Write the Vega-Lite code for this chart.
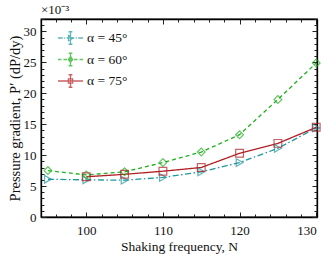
{
  "$schema": "https://vega.github.io/schema/vega-lite/v6.json",
  "width": 276,
  "height": 198,
  "autosize": "none",
  "padding": {"left": 41, "top": 19, "right": 4, "bottom": 39},
  "background": "white",
  "config": {
    "view": {"stroke": "black", "strokeWidth": 1.3},
    "font": "Liberation Serif",
    "axis": {"labelFont": "Liberation Serif", "titleFont": "Liberation Serif", "labelFontSize": 13, "titleFontSize": 13.5, "titleFontWeight": "normal", "labelColor": "#111", "titleColor": "#111", "domainColor": "black", "domainWidth": 1.3, "tickColor": "#222", "tickWidth": 1, "grid": false}
  },
  "title": {"text": "×10⁻³", "anchor": "start", "frame": "group", "font": "Liberation Serif", "fontSize": 13, "fontWeight": "normal", "offset": 2, "color": "#111"},
  "data": {"values": [
    {"N": 95, "P": 6.1, "series": "α = 45°"},
    {"N": 100, "P": 6.0, "series": "α = 45°"},
    {"N": 105, "P": 5.95, "series": "α = 45°"},
    {"N": 110, "P": 6.4, "series": "α = 45°"},
    {"N": 115, "P": 7.3, "series": "α = 45°"},
    {"N": 120, "P": 8.8, "series": "α = 45°"},
    {"N": 125, "P": 11.1, "series": "α = 45°"},
    {"N": 130, "P": 14.4, "series": "α = 45°"},
    {"N": 95, "P": 7.5, "series": "α = 60°"},
    {"N": 100, "P": 6.8, "series": "α = 60°"},
    {"N": 105, "P": 7.3, "series": "α = 60°"},
    {"N": 110, "P": 8.8, "series": "α = 60°"},
    {"N": 115, "P": 10.5, "series": "α = 60°"},
    {"N": 120, "P": 13.3, "series": "α = 60°"},
    {"N": 125, "P": 19.0, "series": "α = 60°"},
    {"N": 130, "P": 24.9, "series": "α = 60°"},
    {"N": 100, "P": 6.5, "series": "α = 75°"},
    {"N": 105, "P": 6.9, "series": "α = 75°"},
    {"N": 110, "P": 7.4, "series": "α = 75°"},
    {"N": 115, "P": 8.0, "series": "α = 75°"},
    {"N": 120, "P": 10.3, "series": "α = 75°"},
    {"N": 125, "P": 11.9, "series": "α = 75°"},
    {"N": 130, "P": 14.5, "series": "α = 75°"}
  ]},
  "resolve": {
    "scale": {"shape": "independent"},
    "legend": {"color": "independent", "shape": "independent"},
    "axis": {"x": "independent", "y": "independent"}
  },
  "layer": [
    {
      "mark": {"type": "line", "strokeWidth": 1.3},
      "encoding": {
        "x": {"field": "N", "type": "quantitative", "scale": {"domain": [94.1, 130.1], "nice": false, "zero": false},
          "axis": {"orient": "bottom", "title": "Shaking frequency, N", "values": [96,98,100,102,104,106,108,110,112,114,116,118,120,122,124,126,128,130],
            "labelExpr": "datum.value % 10 === 0 ? datum.label : ''", "tickSize": {"condition": {"test": "datum.value % 10 === 0", "value": -5}, "value": -3},
            "labelPadding": 12, "titlePadding": 2, "domain": true,
            "encode": {"labels": {"update": {"dy": {"value": 2}}}}}},
        "y": {"field": "P", "type": "quantitative", "scale": {"domain": [0, 32], "nice": false},
          "axis": {"orient": "left", "title": "Pressure gradient, P′ (dP/dy)", "titleFontSize": 14.5, "values": [0,1,2,3,4,5,6,7,8,9,10,11,12,13,14,15,16,17,18,19,20,21,22,23,24,25,26,27,28,29,30,31,32],
            "labelExpr": "datum.value % 5 === 0 ? datum.label : ''", "tickSize": {"condition": {"test": "datum.value % 5 === 0", "value": -5}, "value": -3},
            "labelPadding": 10, "titlePadding": 1,
            "encode": {"labels": {"update": {"dx": {"value": -4}}}}}},
        "color": {"field": "series", "type": "nominal", "scale": {"domain": ["α = 45°", "α = 60°", "α = 75°"], "range": ["#1f979c", "#1fb01f", "#b21e24"]}, "legend": null},
        "strokeDash": {"field": "series", "type": "nominal", "scale": {"domain": ["α = 45°", "α = 60°", "α = 75°"], "range": [[6, 2.5, 1.5, 2.5], [4, 3], [1, 0]]}, "legend": null}
      }
    },
    {
      "mark": {"type": "point", "filled": false, "size": 60, "strokeWidth": 1.2},
      "encoding": {
        "x": {"field": "N", "type": "quantitative", "axis": {"orient": "top", "title": null, "labels": false, "values": [96,98,100,102,104,106,108,110,112,114,116,118,120,122,124,126,128,130], "tickSize": {"condition": {"test": "datum.value % 10 === 0", "value": -5}, "value": -3}}},
        "y": {"field": "P", "type": "quantitative", "axis": {"orient": "right", "title": null, "labels": false, "values": [0,1,2,3,4,5,6,7,8,9,10,11,12,13,14,15,16,17,18,19,20,21,22,23,24,25,26,27,28,29,30,31,32], "tickSize": {"condition": {"test": "datum.value % 5 === 0", "value": -5}, "value": -3}}},
        "color": {"field": "series", "type": "nominal", "legend": null},
        "shape": {"field": "series", "type": "nominal", "scale": {"domain": ["α = 45°", "α = 60°", "α = 75°"], "range": ["triangle-right", "diamond", "square"]}, "legend": null}
      }
    },
    {
      "transform": [{"filter": "datum.P < 0"}],
      "mark": {"type": "point", "filled": false, "size": 625, "strokeWidth": 1.3},
      "encoding": {
        "x": {"field": "N", "type": "quantitative", "axis": null},
        "y": {"field": "P", "type": "quantitative", "axis": null},
        "color": {"field": "series", "type": "nominal",
          "legend": {"orient": "none", "legendX": 16, "legendY": 9, "title": null, "padding": 0, "symbolSize": 625, "symbolStrokeWidth": 1.3, "clipHeight": 20, "rowPadding": 1.5, "labelFont": "Liberation Serif", "labelFontSize": 13.5, "labelColor": "#111", "labelOffset": 3,
            "encode": {"symbols": {"update": {"fill": {"scale": "color", "field": "value"}}}}}},
        "shape": {"field": "series", "type": "nominal",
          "scale": {"domain": ["α = 45°", "α = 60°", "α = 75°"], "range": [
            "M-1,0H-0.62M-0.5,0H-0.42M-0.3,0H0.3M0.42,0H0.5M0.62,0H1M0,-0.5V0.5M-0.15,-0.5H0.15M-0.15,0.5H0.15M-0.16,-0.22L0.24,0L-0.16,0.22Z",
            "M-1,0H-0.72M-0.56,0H-0.28M-0.12,0H0.12M0.28,0H0.56M0.72,0H1M0,-0.5V0.5M-0.15,-0.5H0.15M-0.15,0.5H0.15M0,-0.24L0.18,0L0,0.24L-0.18,0Z",
            "M-1,0H1M0,-0.5V0.5M-0.15,-0.5H0.15M-0.15,0.5H0.15M-0.17,-0.17H0.17V0.17H-0.17Z"
          ]},
          "legend": {"orient": "none", "legendX": 16, "legendY": 9, "title": null, "padding": 0, "symbolSize": 625, "symbolStrokeWidth": 1.3, "clipHeight": 20, "rowPadding": 1.5, "labelFont": "Liberation Serif", "labelFontSize": 13.5, "labelColor": "#111", "labelOffset": 3}}
      }
    }
  ]
}
